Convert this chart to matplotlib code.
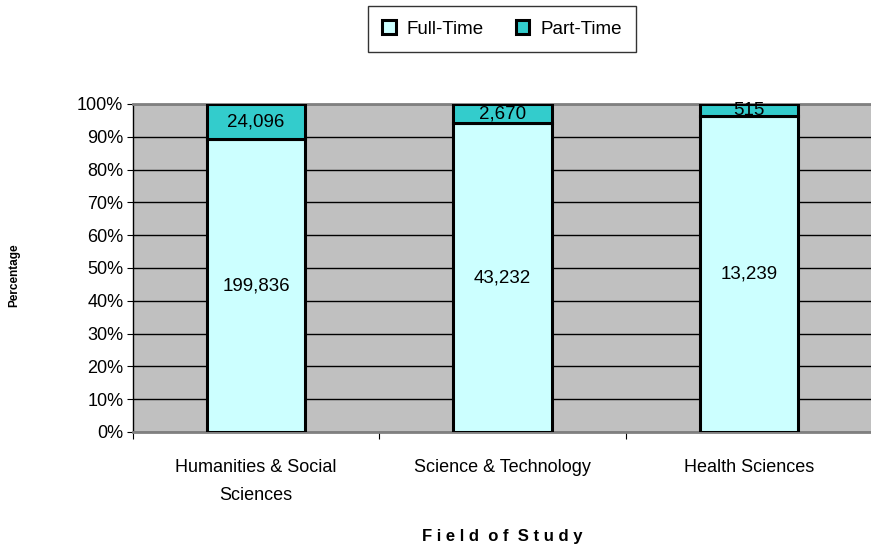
import matplotlib
matplotlib.use("Agg")
import matplotlib.pyplot as plt
import numpy as np
from matplotlib.ticker import FuncFormatter

categories = ["Humanities & Social\nSciences", "Science & Technology", "Health Sciences"]
full_time = [199836, 43232, 13239]
part_time = [24096, 2670, 515]
series_names = ["Full-Time", "Part-Time"]
yticks = [0, 10, 20, 30, 40, 50, 60, 70, 80, 90, 100]

plt.rcParams['font.family'] = ['Liberation Sans', 'DejaVu Sans']

fig = plt.figure(figsize=(8.71, 5.51), dpi=100)
ax = fig.add_axes([133/871, 1-432/551, (872-133)/871, (432-104)/551])
ax.set_facecolor('#c0c0c0')

ft = np.array(full_time, dtype=float)
pt = np.array(part_time, dtype=float)
tot = ft + pt
ft_pct = ft / tot * 100
pt_pct = pt / tot * 100
x = np.arange(len(categories))

ax.set_axisbelow(True)
ax.yaxis.grid(True, color='black', linewidth=1)
b1 = ax.bar(x, ft_pct, width=0.4, color='#ccffff', edgecolor='black', linewidth=2.2, label=series_names[0], zorder=3)
b2 = ax.bar(x, pt_pct, width=0.4, bottom=ft_pct, color='#33cccc', edgecolor='black', linewidth=2.2, label=series_names[1], zorder=3)

for i in range(len(x)):
    ax.text(x[i], ft_pct[i] / 2, f"{full_time[i]:,}", ha='center', va='center', fontsize=13.5, zorder=4)
    ax.text(x[i], ft_pct[i] + pt_pct[i] / 2, f"{part_time[i]:,}", ha='center', va='center', fontsize=13.5, zorder=4)

ax.set_xlim(-0.5, 2.5)
ax.set_ylim(0, 100)
ax.set_yticks(yticks)
ax.yaxis.set_major_formatter(FuncFormatter(lambda v, p: f"{int(v)}%"))
ax.set_xticks([-0.5, 0.5, 1.5])
ax.set_xticklabels(['', '', ''])
ax.tick_params(axis='x', length=5, color='black')
ax.tick_params(axis='y', length=4, labelsize=13, color='black', pad=3)
for i, c in enumerate(categories):
    ax.text(x[i], -8.2, c, ha='center', va='top', fontsize=13, linespacing=1.85, transform=ax.transData)

for s in ['top', 'bottom']:
    ax.spines[s].set_color('#808080')
    ax.spines[s].set_linewidth(2)
ax.spines['right'].set_visible(False)
ax.spines['left'].set_color('black')
ax.spines['left'].set_linewidth(1)

fig.text(502/871, 1-537/551, "F i e l d  o f  S t u d y", ha='center', va='center', fontsize=12, fontweight='bold')
fig.text(14/871, 1-275/551, "Percentage", ha='center', va='center', rotation=90, fontsize=8.5, fontweight='bold')

leg = fig.legend(handles=[b1, b2], loc='center', bbox_to_anchor=(502/871, 1-29/551), ncol=2,
                 frameon=True, fancybox=False, edgecolor='black', fontsize=13.5,
                 handlelength=0.7, handleheight=0.7, columnspacing=1.7, handletextpad=0.6, borderpad=0.75,
                 borderaxespad=0)
leg.get_frame().set_linewidth(1)

fig.savefig("out.png", dpi=100)
